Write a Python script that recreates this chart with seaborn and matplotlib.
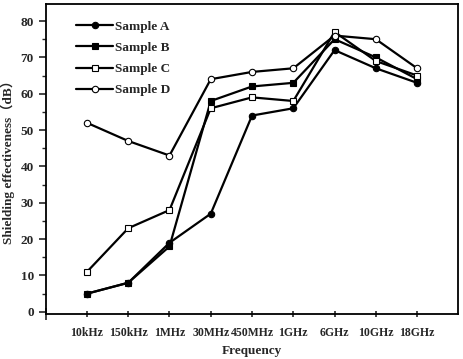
import matplotlib
import matplotlib.pyplot as plt
import seaborn as sns
import pandas as pd

matplotlib.use('Agg')

frequencies = ['10kHz', '150kHz', '1MHz', '30MHz', '450MHz', '1GHz', '6GHz', '10GHz', '18GHz']
sample_a = [5, 8, 19, 27, 54, 56, 72, 67, 63]
sample_b = [5, 8, 18, 58, 62, 63, 75, 70, 64]
sample_c = [11, 23, 28, 56, 59, 58, 77, 69, 65]
sample_d = [52, 47, 43, 64, 66, 67, 76, 75, 67]

sns.set_style('ticks')
plt.rcParams['font.family'] = ['Liberation Serif', 'Noto Sans CJK SC']
plt.rcParams['font.weight'] = 'bold'

fig = plt.figure(figsize=(4.63, 3.59), dpi=100)
ax = fig.add_axes([0.0987, 0.1253, 0.8913, 0.8637])

pos = list(range(len(frequencies)))
series = [
    ('Sample A', sample_a, 'o', 'black'),
    ('Sample B', sample_b, 's', 'black'),
    ('Sample C', sample_c, 's', 'white'),
    ('Sample D', sample_d, 'o', 'white'),
]
for name, vals, mk, face in series:
    df = pd.DataFrame({'x': pos, 'y': vals})
    sns.lineplot(data=df, x='x', y='y', ax=ax, color='black', linewidth=1.6,
                 marker=mk, markersize=4.6, markerfacecolor=face,
                 markeredgecolor='black', markeredgewidth=0.8, label=name)

ax.set_xlim(-1, 9)
ax.set_ylim(-0.6, 84.7)
ax.set_xticks(pos)
ax.set_xticklabels(frequencies, fontsize=8.5, fontweight='bold')
ax.set_xticks([-1, 1, 3, 5, 7], minor=True)
ax.tick_params(axis='x', which='major', direction='inout', length=5, width=1.2, pad=7)
ax.tick_params(axis='x', which='minor', direction='inout', length=9, width=1.2)
ax.set_yticks(range(0, 81, 10))
ax.set_yticks(range(5, 85, 10), minor=True)
ax.tick_params(axis='y', which='major', direction='out', length=5, width=1.2, labelsize=9.5)
ax.tick_params(axis='y', which='minor', direction='out', length=3, width=1.0)
for lbl in ax.get_yticklabels():
    lbl.set_fontweight('bold')

for s in ax.spines.values():
    s.set_linewidth(1.3)
    s.set_color('black')

ax.set_xlabel('Frequency', fontsize=9.5, fontweight='bold', labelpad=4)
ax.set_ylabel('Shielding effectiveness（dB）', fontsize=9.5, fontweight='bold', labelpad=4)

ax.legend(loc='upper left', bbox_to_anchor=(0.045, 0.985), frameon=False,
          handlelength=2.8, labelspacing=0.68, handletextpad=0.15,
          prop={'weight': 'bold', 'size': 9.5})

fig.savefig('out.png', dpi=100)
